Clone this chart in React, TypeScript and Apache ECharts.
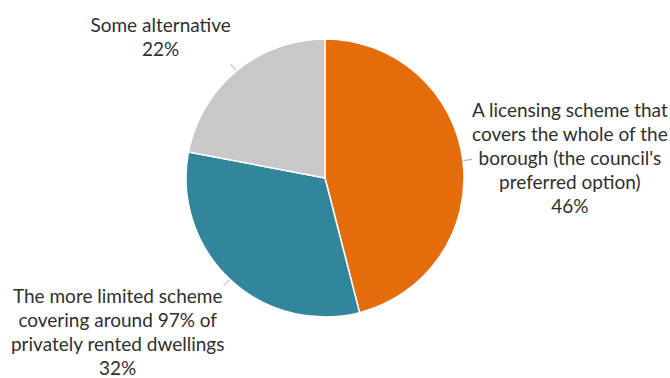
import React, { useEffect, useRef } from "react";
import * as echarts from "echarts";

const categories = [
  "A licensing scheme that\ncovers the whole of the\nborough (the council's\npreferred option)",
  "The more limited scheme\ncovering around 97% of\nprivately rented dwellings",
  "Some alternative",
];
const values = [46, 32, 22];
const colors = ["#E46C0A", "#31869B", "#C8C8C8"];
// label centre offsets from the end of each leader line
const labelOffsets = [
  [98, -2],
  [-106, 46],
  [-70, -27],
];

export default function App() {
  const ref = useRef<HTMLDivElement>(null);
  useEffect(() => {
    if (!ref.current) return;
    const chart = echarts.init(ref.current, null, { renderer: "svg" });
    chart.setOption({
      animation: false,
      backgroundColor: "#ffffff",
      series: [
        {
          type: "pie",
          center: [325, 178],
          radius: 139,
          startAngle: 90,
          clockwise: true,
          avoidLabelOverlap: false,
          itemStyle: { borderColor: "#ffffff", borderWidth: 1.5 },
          label: {
            show: true,
            position: "outside",
            fontFamily: "Lato",
            fontSize: 19,
            lineHeight: 24,
            color: "#2f2f2f",
            align: "center",
            formatter: (p: any) => `${p.name}\n${p.value}%`,
          },
          labelLine: {
            show: true,
            length: 9,
            length2: 0,
            lineStyle: { color: "#A6A6A6", width: 1 },
          },
          labelLayout: (params: any) => {
            const pts = params.labelLinePoints;
            const end = pts[pts.length - 1];
            const off = labelOffsets[params.dataIndex];
            return {
              x: end[0] + off[0],
              y: end[1] + off[1],
              align: "center",
              verticalAlign: "middle",
              labelLinePoints: pts,
            };
          },
          data: categories.map((name, i) => ({
            name,
            value: values[i],
            itemStyle: { color: colors[i] },
          })),
        },
      ],
    });
    return () => chart.dispose();
  }, []);
  return (
    <div
      ref={ref}
      style={{ position: "fixed", left: 0, top: 0, width: 670, height: 378 }}
    />
  );
}
